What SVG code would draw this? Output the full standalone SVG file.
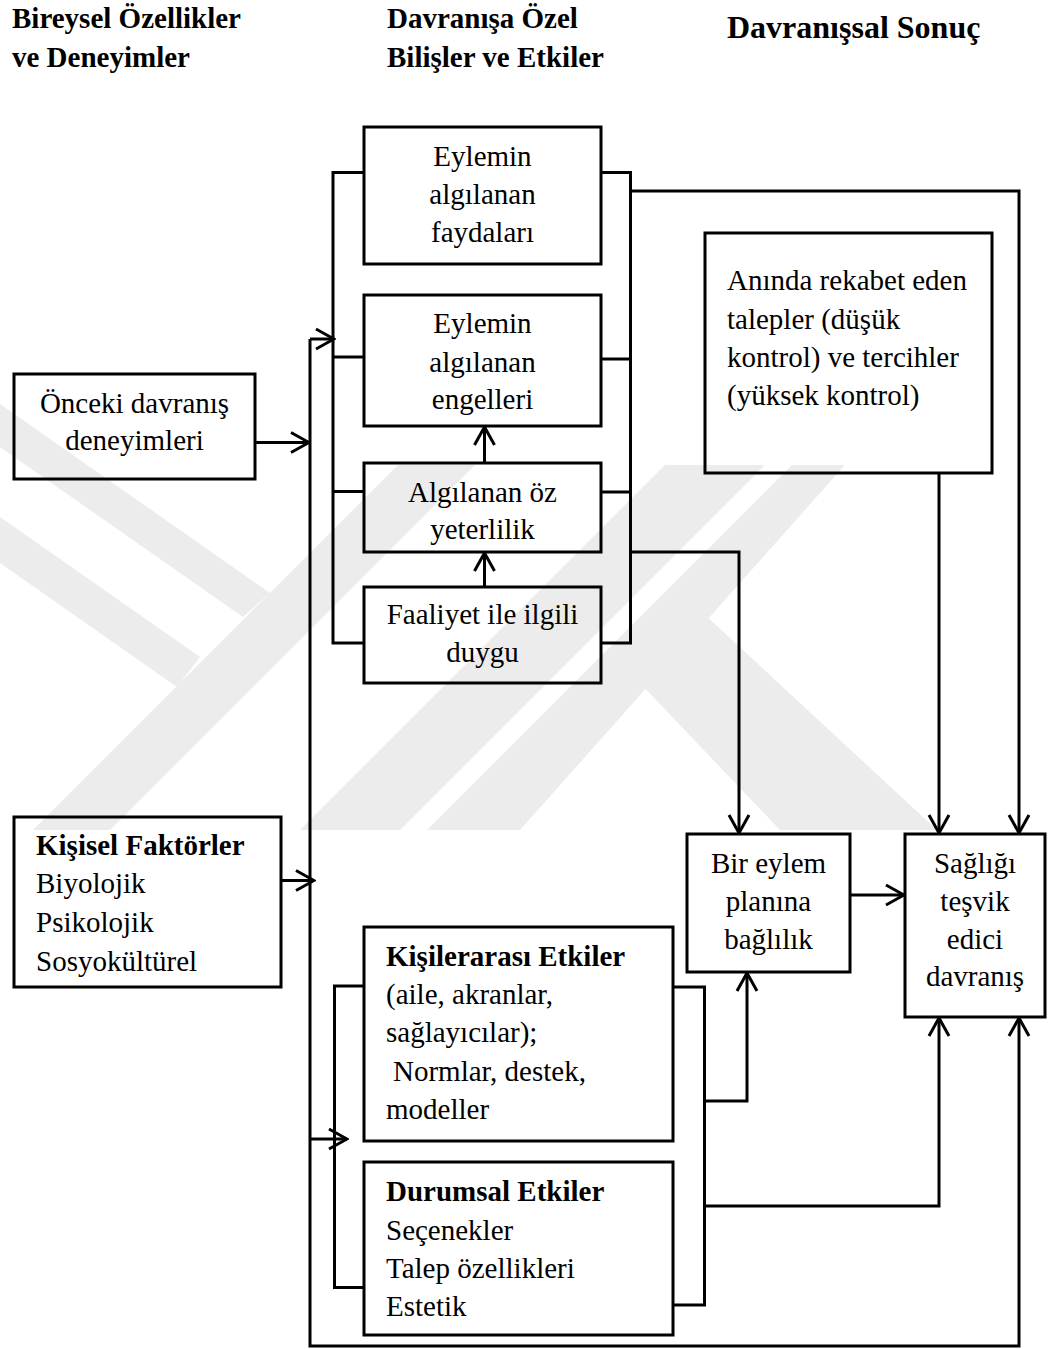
<svg xmlns="http://www.w3.org/2000/svg" width="1051" height="1349" viewBox="0 0 1051 1349">
<style>
.bg{fill:#ffffff}
.wm{fill:#ececec;stroke:none}
.box{fill:none;stroke:#000;stroke-width:3}
.ln{fill:none;stroke:#000;stroke-width:3}
text{font-family:"Liberation Serif","Times New Roman",serif;font-size:29px;fill:#000}
.h{font-weight:bold}
.c{text-anchor:middle}
.b{font-weight:bold}
</style>
<defs>
<marker id="ah" markerUnits="userSpaceOnUse" viewBox="-22 -13 24 26" refX="0" refY="0" markerWidth="24" markerHeight="26" orient="auto">
<path d="M-18,-10 L0,0 L-18,10" fill="none" stroke="#000" stroke-width="3"/>
</marker>
</defs>
<rect class="bg" x="0" y="0" width="1051" height="1349"/>
<g id="watermark">
<polygon class="wm" points="0,404 270,593 243,617 0,447"/>
<polygon class="wm" points="0,517 200,657 177,687 0,563"/>
<polygon class="wm" points="33,830 110,830 475,465 398,465"/>
<polygon class="wm" points="300,830 400,830 765,465 665,465"/>
<polygon class="wm" points="427,830 520,830 845,465 792,465"/>
<polygon class="wm" points="703,613 937,830 780,830 637,680"/>
</g>
<g id="headers">
<text class="h" x="12" y="28">Bireysel Özellikler</text>
<text class="h" x="12" y="67">ve Deneyimler</text>
<text class="h" x="387" y="28">Davranışa Özel</text>
<text class="h" x="387" y="67">Bilişler ve Etkiler</text>
<text class="h" x="727" y="38" style="font-size:32px">Davranışsal Sonuç</text>
</g>
<g id="connectors">
<polyline class="ln" points="255,442.5 309,442.5" marker-end="url(#ah)"/>
<polyline class="ln" points="281,880.5 314,880.5" marker-end="url(#ah)"/>
<polyline class="ln" points="310,339 310,1346 1019,1346 1019,1018" marker-end="url(#ah)"/>
<polyline class="ln" points="310,339 334,339" marker-end="url(#ah)"/>
<polyline class="ln" points="310,1139 347,1139" marker-end="url(#ah)"/>
<polyline class="ln" points="364,172.5 333,172.5 333,643 364,643"/>
<polyline class="ln" points="333,357 364,357"/>
<polyline class="ln" points="333,491.5 364,491.5"/>
<polyline class="ln" points="601,172.5 630.5,172.5 630.5,643 601,643"/>
<polyline class="ln" points="601,359 630.5,359"/>
<polyline class="ln" points="601,492 630.5,492"/>
<polyline class="ln" points="630.5,191 1019,191 1019,833" marker-end="url(#ah)"/>
<polyline class="ln" points="630.5,552 739,552 739,833" marker-end="url(#ah)"/>
<polyline class="ln" points="939,473 939,833" marker-end="url(#ah)"/>
<polyline class="ln" points="850,895 904,895" marker-end="url(#ah)"/>
<polyline class="ln" points="484.5,463 484.5,427" marker-end="url(#ah)"/>
<polyline class="ln" points="484.5,587 484.5,553" marker-end="url(#ah)"/>
<polyline class="ln" points="364,986 334.5,986 334.5,1287.5 364,1287.5"/>
<polyline class="ln" points="673,987 704.5,987 704.5,1305 673,1305"/>
<polyline class="ln" points="704.5,1101 747,1101 747,973" marker-end="url(#ah)"/>
<polyline class="ln" points="704.5,1206 939,1206 939,1018" marker-end="url(#ah)"/>
</g>
<g id="n-faydalari">
<rect class="box" x="364" y="127" width="237" height="137"/>
<text class="c" x="482.5" y="166">Eylemin</text>
<text class="c" x="482.5" y="204">algılanan</text>
<text class="c" x="482.5" y="242">faydaları</text>
</g>
<g id="n-engelleri">
<rect class="box" x="364" y="295" width="237" height="131"/>
<text class="c" x="482.5" y="333">Eylemin</text>
<text class="c" x="482.5" y="371.5">algılanan</text>
<text class="c" x="482.5" y="408.5">engelleri</text>
</g>
<g id="n-ozyeterlilik">
<rect class="box" x="364" y="463" width="237" height="89"/>
<text class="c" x="482.5" y="501.5">Algılanan öz</text>
<text class="c" x="482.5" y="538.5">yeterlilik</text>
</g>
<g id="n-duygu">
<rect class="box" x="364" y="587" width="237" height="96"/>
<text class="c" x="482.5" y="623.5">Faaliyet ile ilgili</text>
<text class="c" x="482.5" y="661.5">duygu</text>
</g>
<g id="n-onceki">
<rect class="box" x="14" y="374" width="241" height="105"/>
<text class="c" x="134.5" y="412.5">Önceki davranış</text>
<text class="c" x="134.5" y="450">deneyimleri</text>
</g>
<g id="n-aninda">
<rect class="box" x="705" y="233" width="287" height="240"/>
<text x="727" y="290">Anında rekabet eden</text>
<text x="727" y="328.5">talepler (düşük</text>
<text x="727" y="366.5">kontrol) ve tercihler</text>
<text x="727" y="405">(yüksek kontrol)</text>
</g>
<g id="n-kisisel">
<rect class="box" x="14" y="817" width="267" height="170"/>
<text class="b" x="36" y="855">Kişisel Faktörler</text>
<text x="36" y="893">Biyolojik</text>
<text x="36" y="931.5">Psikolojik</text>
<text x="36" y="970.5">Sosyokültürel</text>
</g>
<g id="n-kisilerarasi">
<rect class="box" x="364" y="927" width="309" height="214"/>
<text class="b" x="386" y="965.5">Kişilerarası Etkiler</text>
<text x="386" y="1004">(aile, akranlar,</text>
<text x="386" y="1042">sağlayıcılar);</text>
<text x="393" y="1080.5">Normlar, destek,</text>
<text x="386" y="1118.5">modeller</text>
</g>
<g id="n-durumsal">
<rect class="box" x="364" y="1162" width="309" height="173"/>
<text class="b" x="386" y="1200.5">Durumsal Etkiler</text>
<text x="386" y="1239.5">Seçenekler</text>
<text x="386" y="1277.5">Talep özellikleri</text>
<text x="386" y="1315.5">Estetik</text>
</g>
<g id="n-eylemplani">
<rect class="box" x="687" y="834" width="163" height="138"/>
<text class="c" x="768.5" y="873">Bir eylem</text>
<text class="c" x="768.5" y="911">planına</text>
<text class="c" x="768.5" y="948.5">bağlılık</text>
</g>
<g id="n-saglik">
<rect class="box" x="905" y="834" width="140" height="183"/>
<text class="c" x="975" y="872.5">Sağlığı</text>
<text class="c" x="975" y="911">teşvik</text>
<text class="c" x="975" y="949">edici</text>
<text class="c" x="975" y="986">davranış</text>
</g>
</svg>
